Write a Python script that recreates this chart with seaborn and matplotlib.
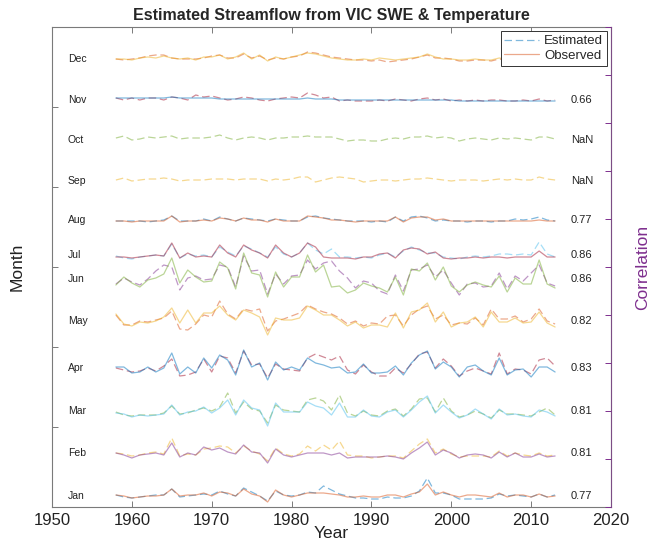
import numpy as np
import pandas as pd
import matplotlib
matplotlib.use("Agg")
import matplotlib.pyplot as plt
from matplotlib.lines import Line2D
import seaborn as sns

# ---------------------------------------------------------------- data
years = list(range(1958, 2014))
months = ["Jan", "Feb", "Mar", "Apr", "May", "Jun",
          "Jul", "Aug", "Sep", "Oct", "Nov", "Dec"]
# vertical offset of each month's trace on the stacked axis
offsets = [11, 54, 96, 139, 186, 228, 252, 287, 326, 367, 407, 448]
correlation = [0.77, 0.81, 0.81, 0.83, 0.82, 0.86, 0.86, 0.77,
               np.nan, np.nan, 0.66, None]

# streamflow anomalies (stacked-axis units), 1958-2013
obs_jan = [1, 0, -2, -1, 0, 0, 1, 7, 0, 1,
           1, 3, 0, 4, 3, 0, 7, 2, 0, -6,
           6, 1, -1, 1, 3, 3, 3, 2, 1, -1,
           -1, 0, -1, -1, 1, 1, -1, 2, 4, 12,
           1, 4, 1, -1, 1, 1, 0, -1, 3, -1,
           1, 1, -1, 2, -1, 0]
est_jan = [1, -1, -2, -1, 0, 1, 1, 7, -1, 0,
           1, 2, 1, 5, 2, 0, 8, 4, 0, -5,
           5, 1, 0, 1, 4, 3, 10, 6, 2, 0,
           -2, -2, -3, -3, -1, -2, -2, 0, 5, 18,
           3, 3, 1, -3, -3, -3, -3, -2, 2, 0,
           1, 0, -1, 2, -1, 1]
obs_feb = [0, -2, -5, -2, -1, 0, -2, 10, -4, 0,
           -2, 6, 3, 5, 1, -1, 8, 1, 0, -10,
           4, -2, -4, -2, 0, 0, 0, -2, 0, -5,
           -4, -4, -4, -4, -3, -4, -6, 0, 5, 11,
           -2, 3, 0, -5, -2, -1, -2, -5, 1, -4,
           0, -4, -4, -1, -4, -3]
est_feb = [0, -1, -3, -2, 0, 1, -1, 15, -3, -1,
           -2, 4, 5, 7, 6, 0, 7, 2, -1, -8,
           5, -1, -3, -1, 7, 2, 8, 3, 12, -2,
           -3, -3, -5, -4, -3, -3, -5, 2, 9, 14,
           0, 4, -1, -4, -3, -3, -3, -4, 2, -3,
           0, -2, -3, 0, -3, -2]
obs_mar = [-2, -3, -6, -4, -5, -4, -3, 6, -4, -1,
           0, 4, -2, 3, 11, -4, 11, 3, 1, -15,
           8, -1, -1, -1, 9, 5, 3, -4, 8, -6,
           -6, 1, -5, -6, -1, 1, -6, 1, 9, 15,
           -2, 6, -1, -7, -4, 2, -3, -8, 2, -4,
           -3, -5, -6, 1, -1, -5]
est_mar = [-1, -4, -5, -4, -4, -4, -2, 5, -3, -2,
           1, 3, 0, 4, 18, -2, 9, 2, 0, -12,
           6, 1, 0, -1, 11, 13, 10, 1, 16, -2,
           -5, 0, -4, -5, 0, 2, -5, 2, 12, 13,
           -1, 13, 0, -6, -4, 0, -3, -7, 1, -3,
           -3, -4, -5, -1, 3, -4]
obs_apr = [1, 1, -5, -4, 1, -4, 0, 15, -6, 1,
           -5, 10, 0, 13, 8, -7, 18, 1, 5, -12,
           6, -2, 1, -2, 10, 5, 3, 0, 1, -5,
           -4, 4, -5, -5, -4, 2, -7, 5, 13, 17,
           -1, 6, 1, -9, 1, 3, -3, -7, 10, -7,
           -2, -1, -9, 1, 1, -4]
est_apr = [0, -2, -4, -3, 0, -3, 2, 9, -8, -7,
           -4, 9, -4, 12, 10, -5, 17, 3, 4, -10,
           4, -1, -2, -3, 10, 14, 11, 8, 12, -2,
           -6, 3, -4, -8, -8, 0, -5, 4, 14, 16,
           0, 9, 2, -8, -3, 0, -3, -6, 15, -6,
           -1, -2, -6, 8, 10, 2]
obs_may = [7, -3, -5, -1, -2, 0, 4, 13, -2, 11,
           -2, 8, 8, 15, 6, 1, 11, 8, 4, -14,
           3, 1, 1, 3, 15, 11, 6, 6, 1, -5,
           -1, -7, -4, -4, -6, 8, -7, 9, 11, 18,
           -1, 9, -6, -2, -1, 4, -6, 9, -1, -1,
           3, -2, -1, 9, -2, -6]
est_may = [6, -4, -4, 0, -1, 1, 3, 10, -8, -9,
           -3, 6, 4, 20, 7, 2, 12, 10, 12, -10,
           0, 2, 5, 8, 16, 12, 9, 7, 3, -3,
           0, -5, -2, -3, 5, 6, -5, 6, 12, 15,
           2, 6, -4, -2, -3, 3, -4, 12, 2, 2,
           5, -1, 2, 12, 0, -3]
obs_jun = [-6, 2, -4, -8, -1, 1, 5, 21, -4, 9,
           2, -3, -2, 17, 11, -10, 26, 6, 4, -18,
           7, -8, 2, 2, 24, 7, 14, -8, -7, -14,
           -11, -4, -7, -9, -13, 2, -16, 10, 8, 16,
           -1, 12, -7, -13, -6, -3, -6, -8, 3, -13,
           1, -5, -5, 19, -5, -9]
est_jun = [-5, 1, -3, -6, 0, 8, 14, 12, -11, 1,
           3, -1, 0, 14, 12, -8, 23, 8, 9, -15,
           5, -5, 3, 4, 19, 10, 16, 18, 8, 1,
           -9, -2, -4, -12, -15, 4, -12, 9, 10, 14,
           2, 9, -4, -16, -5, -4, -8, -7, 6, -10,
           3, -2, 6, 14, -4, -7]
obs_jul = [-2, -2, -3, -2, -1, 0, -1, 12, -3, 2,
           -2, -1, -2, 10, 2, -2, 10, 5, 2, -3,
           10, 2, -2, 2, 12, 8, -2, -3, -3, -3,
           -4, -2, -2, 1, 2, -3, 5, 7, 6, 1,
           3, -3, -4, -3, -3, -2, -3, -2, -2, -3,
           -2, -2, -2, 4, -2, -2]
est_jul = [-1, -3, -4, -2, -1, 0, -1, 11, -3, 1,
           -1, 0, -2, 8, 3, -1, 9, 6, 2, -2,
           8, 1, -2, 2, 12, 5, 1, 6, -2, -2,
           -3, -2, -3, 0, 2, -2, 4, 8, 5, 2,
           2, -2, -3, -4, -2, -1, -2, -1, 1, 1,
           0, 1, 0, 13, 1, -2]
obs_aug = [-1, -1, -2, -1, -1, -1, -1, 4, -2, -1,
           -1, 0, -1, 2, 1, -1, 2, 0, 0, -2,
           1, -1, -1, -1, 4, 3, 2, 0, 0, -1,
           -2, -1, -1, -1, -1, 3, -2, 2, 3, 3,
           0, 1, -1, -1, -1, -1, -1, -1, -1, -1,
           -1, -1, -1, 0, -1, -1]
est_aug = [-1, -1, -1, -1, -2, -1, 0, 4, -1, -1,
           -1, 1, -1, 3, 1, -1, 2, 1, 0, -1,
           1, 0, -1, -1, 3, 4, 2, 1, 0, -1,
           -1, -1, -2, -1, -2, 3, -1, 3, 4, 2,
           -1, 0, -1, -1, -2, -1, -1, -2, -1, -1,
           1, 0, 1, 3, 0, -1]
est_sep = [1, 3, 0, 1, 2, 2, 3, 2, 0, 1,
           1, 1, 2, 2, 2, 1, 2, 2, 2, 0,
           2, 1, 2, 4, 4, -1, 1, 3, 4, 3,
           2, -1, 0, 1, 1, 0, 1, 2, 2, 3,
           2, 1, 0, 1, 1, 1, 0, 1, 2, 1,
           2, 1, 1, 4, 2, 1]
est_oct = [2, 4, 0, 1, 3, 2, 3, 4, 1, 2,
           2, 2, 3, 5, 2, 0, 2, 3, 2, 0,
           2, 2, 3, 3, 4, 3, 3, 3, 1, -1,
           0, 0, -1, -1, 1, 2, 1, 3, 3, 4,
           2, 3, 2, -1, 1, 2, 1, 0, 2, 1,
           2, 1, 0, 3, 3, 1]
obs_nov = [2, 2, 2, 2, 2, 2, 2, 3, 2, 2,
           2, 2, 2, 1, 1, 1, 1, 1, 1, 1,
           1, 1, 1, 1, 2, 1, 1, 1, 0, 0,
           0, 0, 0, 0, 0, 0, 0, 0, 0, 0,
           0, 0, 0, -1, -1, -1, -1, -1, -1, -1,
           -1, -1, -1, -1, -1, -1]
est_nov = [2, 0, 2, 0, 2, 2, 0, 3, 2, 0,
           5, 3, 4, 2, 0, 1, 3, 2, 0, -1,
           1, 2, 3, 2, 7, 5, 2, 3, -1, 0,
           -1, -1, -1, 0, -1, 1, 0, -1, 1, 2,
           0, 1, -1, 0, -1, 0, -1, 0, 0, -1,
           -1, 0, -1, 1, -1, 0]
obs_dec = [0, 0, -1, 1, 2, 1, 3, 1, 0, 1,
           -1, 2, 2, 4, 0, 2, 6, 0, 4, -2,
           2, 0, 2, 4, 6, 5, 3, 1, 0, -1,
           -1, 0, -1, 1, 0, -1, 0, 1, 2, 5,
           2, 0, 0, -1, -1, 0, -1, -1, 1, 0,
           -1, -1, 0, 1, 0, 0]
est_dec = [0, -1, 0, 1, 3, 4, 4, 1, 0, 0,
           0, 1, 3, 4, 1, 1, 5, 1, 3, -1,
           1, 0, 2, 3, 7, 6, 4, 2, 1, 0,
           -1, -1, -2, -1, -3, -2, -1, 0, 2, 4,
           1, 1, 0, -2, -2, -1, -1, -2, 0, -1,
           -2, -1, -1, 0, -1, 0]

observed = [obs_jan, obs_feb, obs_mar, obs_apr, obs_may, obs_jun,
            obs_jul, obs_aug, None, None, obs_nov, obs_dec]
estimated = [est_jan, est_feb, est_mar, est_apr, est_may, est_jun,
             est_jul, est_aug, est_sep, est_oct, est_nov, est_dec]

# MATLAB-style colour order, cycled through estimated / observed pairs
color_order = [(0.000, 0.447, 0.741), (0.850, 0.325, 0.098),
               (0.929, 0.694, 0.125), (0.494, 0.184, 0.556),
               (0.466, 0.674, 0.188), (0.301, 0.745, 0.933),
               (0.635, 0.078, 0.184)]
purple = (0.494, 0.184, 0.556)

# ---------------------------------------------------------------- frame
rows = []
for m, off, est, obs in zip(months, offsets, estimated, observed):
    for kind, series in (("Estimated", est), ("Observed", obs)):
        if series is None:
            continue
        for yr, v in zip(years, series):
            rows.append({"month": m, "kind": kind, "year": yr, "value": off + v})
df = pd.DataFrame(rows)

# ---------------------------------------------------------------- style
sns.set_style("white")
plt.rcParams["font.family"] = ["Liberation Sans", "DejaVu Sans"]
plt.rcParams["axes.edgecolor"] = "#7a7a7a"
plt.rcParams["axes.linewidth"] = 0.8

fig = plt.figure(figsize=(6.56, 5.48), dpi=100)
ax = fig.add_axes([52 / 656, 41 / 548, 559 / 656, 480 / 548])

line_alpha = 0.5
line_width = 0.9
ci = 0
handles = {}
for m in months:
    for kind in ("Estimated", "Observed"):
        col = color_order[ci % len(color_order)]
        ci += 1
        sub = df[(df.month == m) & (df.kind == kind)]
        if sub.empty:
            continue
        ls = (0, (6, 3)) if kind == "Estimated" else "-"
        sns.lineplot(data=sub, x="year", y="value", ax=ax, color=col,
                     estimator=None, errorbar=None, linewidth=line_width,
                     alpha=line_alpha, linestyle=ls, legend=False)
        if kind not in handles:
            handles[kind] = Line2D([], [], color=col, alpha=line_alpha,
                                   linestyle=ls, linewidth=line_width)

# month names on the left, correlations on the right
for m, off, r in zip(months, offsets, correlation):
    ax.text(1952, off, m, fontsize=7.5, ha="left", va="center", color="#222222")
    if r is None:
        continue
    txt = "NaN" if np.isnan(r) else f"{r:.2f}"
    ax.text(2015, off, txt, fontsize=8, ha="left", va="center", color="#222222")

ax.set_xlim(1950, 2020)
ax.set_ylim(0, 480)
ax.set_xticks(range(1950, 2021, 10))
ax.set_yticks(range(0, 481, 80))
ax.set_yticklabels([])
ax.tick_params(axis="x", direction="in", bottom=True, top=True, length=4,
               width=0.7, labelsize=12, pad=4, colors="#7a7a7a",
               labelcolor="#222222")
ax.tick_params(axis="y", direction="in", left=True, right=False, length=4,
               width=0.7, colors="#7a7a7a")
ax.set_xlabel("Year", fontsize=12.5, labelpad=-1, color="#222222")
ax.set_ylabel("Month", fontsize=12.5, labelpad=16, color="#222222")
ax.set_title("Estimated Streamflow from VIC SWE & Temperature",
             fontsize=11.5, fontweight="bold", pad=5)

# right-hand correlation axis
ax2 = ax.twinx()
ax2.set_ylim(0, 10)
ax2.set_yticks(range(0, 11))
ax2.set_yticklabels([])
ax2.tick_params(axis="y", direction="in", right=True, length=4, width=0.7,
                colors=purple)
ax2.spines["right"].set_color(purple)
ax2.spines["right"].set_alpha(0.6)
ax2.set_ylabel("Correlation", fontsize=12.5, color=purple, labelpad=14)
for s in ("left", "top", "bottom"):
    ax2.spines[s].set_visible(False)

leg = ax2.legend([handles["Estimated"], handles["Observed"]],
                 ["Estimated", "Observed"], loc="upper right",
                 fontsize=9.5, frameon=True, fancybox=False,
                 edgecolor="#333333", framealpha=1, handlelength=2.6,
                 borderpad=0.3, labelspacing=0.2, handletextpad=0.4,
                 borderaxespad=0.3)
leg.get_frame().set_linewidth(0.7)

fig.savefig("out.png", dpi=100)
